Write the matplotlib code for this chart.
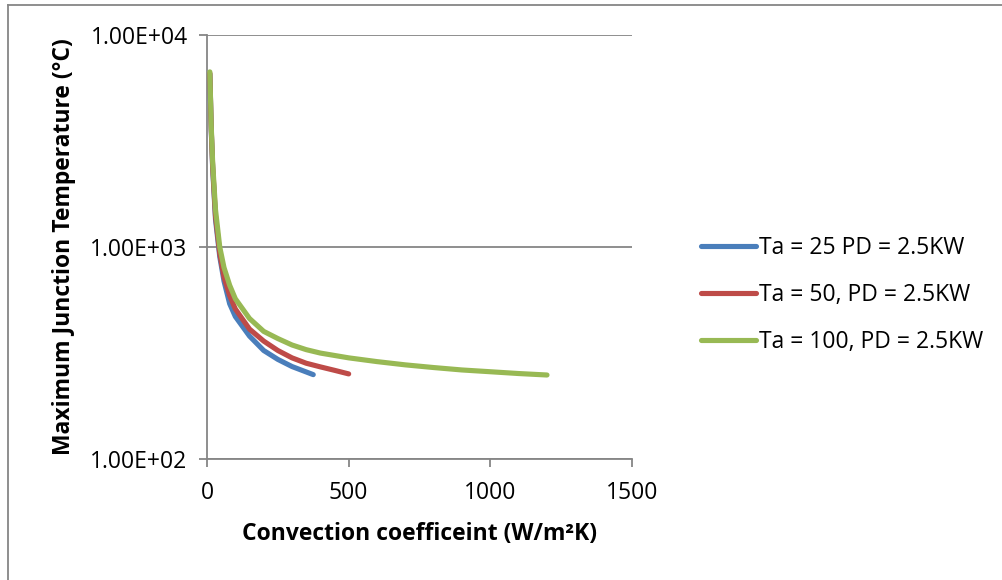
import matplotlib
matplotlib.use('Agg')
import matplotlib.pyplot as plt
from matplotlib.lines import Line2D
from matplotlib.ticker import FixedLocator, NullLocator

plt.rcParams['font.family'] = ['Open Sans', 'DejaVu Sans']

# convection coefficient (W/m2K) and max junction temperature (C)
h_25 = [10, 15, 20, 30, 45, 60, 80, 100, 150, 200, 250, 300, 375]
t_25 = [6550, 3550, 2350, 1350, 900, 690, 540, 470, 380, 325, 295, 273, 250]

h_50 = [10, 15, 20, 30, 45, 60, 80, 100, 150, 200, 250, 300, 350, 400, 450, 500]
t_50 = [6600, 3600, 2400, 1400, 930, 720, 590, 510, 410, 360, 325, 300, 283, 272, 262, 252]

h_100 = [10, 15, 20, 30, 45, 60, 80, 100, 150, 200, 250, 300, 350, 400, 500, 600,
         700, 800, 900, 1000, 1100, 1200]
t_100 = [6700, 3700, 2500, 1500, 1000, 800, 660, 570, 460, 400, 370, 345, 328, 316, 300, 288,
         278, 270, 263, 258, 253, 249]

labels = ['Ta = 25 PD = 2.5KW', 'Ta = 50, PD = 2.5KW', 'Ta = 100, PD = 2.5KW']
colors = ['#4A7EBB', '#BE4B48', '#98B954']
y_ticks = [1e2, 1e3, 1e4]
y_tick_labels = ['1.00E+02', '1.00E+03', '1.00E+04']
x_ticks = [0, 500, 1000, 1500]

fig = plt.figure(figsize=(10.03, 5.80), dpi=100)
ax = fig.add_axes([207 / 1003, 1 - 459 / 580, 425 / 1003, 424 / 580])

grey = '#868686'
fs = 16.5
for hh, tt, c, lab in zip([h_25, h_50, h_100], [t_25, t_50, t_100], colors, labels):
    ax.plot(hh, tt, color=c, lw=3.7, solid_capstyle='round', solid_joinstyle='round',
            label=lab, zorder=3)
ax.set_yscale('log')
ax.set_ylim(100, 10000)
ax.set_xlim(0, 1500)
ax.yaxis.set_major_locator(FixedLocator(y_ticks))
ax.yaxis.set_minor_locator(NullLocator())
ax.set_yticklabels(y_tick_labels)
ax.set_xticks(x_ticks)
ax.set_xticklabels([str(v) for v in x_ticks])

ax.grid(axis='y', color=grey, lw=1.3)
ax.set_axisbelow(True)
for s in ['top', 'right']:
    ax.spines[s].set_visible(False)
for s in ['left', 'bottom']:
    ax.spines[s].set_color(grey)
    ax.spines[s].set_linewidth(1.3)
ax.tick_params(axis='both', direction='out', length=6, width=1.3, color=grey,
               labelsize=fs, labelcolor='black')
ax.tick_params(axis='x', pad=10)
ax.tick_params(axis='y', pad=8)

ax.set_ylabel('Maximum Junction Temperature (°C)', fontsize=fs, fontweight='bold', labelpad=10)
ax.set_xlabel('Convection coefficeint (W/m²K)', fontsize=fs, fontweight='bold', labelpad=12)

handles = [Line2D([0], [0], color=c, lw=3.7, solid_capstyle='round') for c in colors]
fig.legend(handles, labels, loc='center left', bbox_to_anchor=(0.69, 1 - 295 / 580),
           frameon=False, fontsize=fs, handlelength=2.4, handletextpad=0.1,
           labelspacing=1.0, borderaxespad=0)

# chart frame (only top and left edges visible)
fig.add_artist(Line2D([8 / 1003, 8 / 1003], [0, 1 - 5 / 580], color=grey, lw=1.3,
                      transform=fig.transFigure))
fig.add_artist(Line2D([8 / 1003, 1], [1 - 5 / 580, 1 - 5 / 580], color=grey, lw=1.3,
                      transform=fig.transFigure))

fig.savefig('out.png', dpi=100)
